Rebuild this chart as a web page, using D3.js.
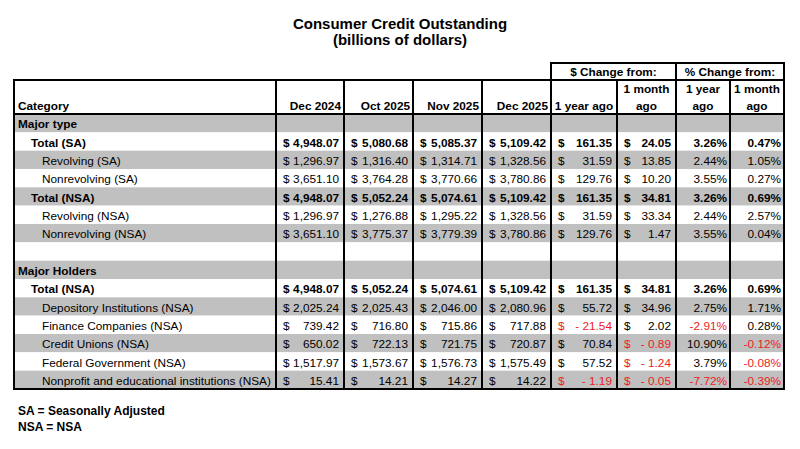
<!DOCTYPE html>
<html>
<head>
<meta charset="utf-8">
<script src="https://cdn.jsdelivr.net/npm/d3@7"></script>
<style>
  body { margin: 0; background: #fff; }
  svg { display: block; font-family: "Liberation Sans", Arial, sans-serif; }
</style>
</head>
<body>
<div id="chart"></div>
<script>
// table data
const categories = [
  'Major type', 'Total (SA)', 'Revolving (SA)', 'Nonrevolving (SA)',
  'Total (NSA)', 'Revolving (NSA)', 'Nonrevolving (NSA)', '',
  'Major Holders', 'Total (NSA)', 'Depository Institutions (NSA)',
  'Finance Companies (NSA)', 'Credit Unions (NSA)', 'Federal Government (NSA)',
  'Nonprofit and educational institutions (NSA)'
];
// 0 = section heading, 1 = total, 2 = detail line
const levels = [0, 1, 2, 2, 1, 2, 2, 2, 0, 1, 2, 2, 2, 2, 2];

const dec2024 = [null, 4948.07, 1296.97, 3651.10, 4948.07, 1296.97, 3651.10, null, null, 4948.07, 2025.24, 739.42, 650.02, 1517.97, 15.41];
const oct2025 = [null, 5080.68, 1316.40, 3764.28, 5052.24, 1276.88, 3775.37, null, null, 5052.24, 2025.43, 716.80, 722.13, 1573.67, 14.21];
const nov2025 = [null, 5085.37, 1314.71, 3770.66, 5074.61, 1295.22, 3779.39, null, null, 5074.61, 2046.00, 715.86, 721.75, 1576.73, 14.27];
const dec2025 = [null, 5109.42, 1328.56, 3780.86, 5109.42, 1328.56, 3780.86, null, null, 5109.42, 2080.96, 717.88, 720.87, 1575.49, 14.22];
const chgYear = [null, 161.35, 31.59, 129.76, 161.35, 31.59, 129.76, null, null, 161.35, 55.72, -21.54, 70.84, 57.52, -1.19];
const chgMonth = [null, 24.05, 13.85, 10.20, 34.81, 33.34, 1.47, null, null, 34.81, 34.96, 2.02, -0.89, -1.24, -0.05];
const pctYear = [null, 3.26, 2.44, 3.55, 3.26, 2.44, 3.55, null, null, 3.26, 2.75, -2.91, 10.90, 3.79, -7.72];
const pctMonth = [null, 0.47, 1.05, 0.27, 0.69, 2.57, 0.04, null, null, 0.69, 1.71, 0.28, -0.12, -0.08, -0.39];

const columnHeaders = [
  ['Category'], ['Dec 2024'], ['Oct 2025'], ['Nov 2025'], ['Dec 2025'],
  ['1 year ago'], ['1 month', 'ago'], ['1 year', 'ago'], ['1 month', 'ago']
];
const groupHeaders = ['$ Change from:', '% Change from:'];

const columns = [
  { key: 'cat', values: categories },
  { key: 'usd', values: dec2024 },
  { key: 'usd', values: oct2025 },
  { key: 'usd', values: nov2025 },
  { key: 'usd', values: dec2025 },
  { key: 'usd', values: chgYear },
  { key: 'usd', values: chgMonth },
  { key: 'pct', values: pctYear },
  { key: 'pct', values: pctMonth }
];

// layout
const width = 800;
const height = 449;
const edges = [14, 276, 344, 413, 482, 551, 617, 676, 730, 784];
const groupTop = 63;
const headTop = 80;
const headBottom = 114;
const tableBottom = 389;
const fontSize = 11.8;
const gray = '#c0c0c0';
const red = '#f01c24';

const svg = d3.select('#chart')
  .append('svg')
  .attr('width', width)
  .attr('height', height);

const y = d3.scaleBand()
  .domain(d3.range(categories.length))
  .range([headBottom, tableBottom]);

const fmtNum = d3.format(',.2f');
const fmtPct = (v) => (v < 0 ? '-' : '') + d3.format('.2f')(Math.abs(v)) + '%';

// title
svg.selectAll('.title')
  .data(['Consumer Credit Outstanding', '(billions of dollars)'])
  .enter()
  .append('text')
  .attr('x', 400)
  .attr('y', (d, i) => 29 + i * 16)
  .attr('text-anchor', 'middle')
  .attr('font-size', 15)
  .attr('font-weight', 'bold')
  .text((d) => d);

// row shading
svg.selectAll('.band')
  .data(categories)
  .enter()
  .append('rect')
  .attr('x', edges[0])
  .attr('y', (d, i) => y(i))
  .attr('width', edges[edges.length - 1] - edges[0])
  .attr('height', y.bandwidth())
  .attr('fill', (d, i) => (i % 2 === 0 ? gray : '#fff'));

// group headers
const groupSpans = [[5, 7], [7, 9]];
svg.selectAll('.group')
  .data(groupHeaders)
  .enter()
  .append('text')
  .attr('x', (d, i) => (edges[groupSpans[i][0]] + edges[groupSpans[i][1]]) / 2)
  .attr('y', 76)
  .attr('text-anchor', 'middle')
  .attr('font-size', fontSize)
  .attr('font-weight', 'bold')
  .text((d) => d);

// column headers
columnHeaders.forEach((lines, c) => {
  const left = edges[c];
  const right = edges[c + 1];
  let anchor = 'end';
  let x = right - 3;
  if (c === 0) { anchor = 'start'; x = left + 4; }
  if (c >= 5) { anchor = 'middle'; x = (left + right) / 2; }
  svg.append('text')
    .attr('font-size', fontSize)
    .attr('font-weight', 'bold')
    .attr('text-anchor', anchor)
    .selectAll('tspan')
    .data(lines)
    .enter()
    .append('tspan')
    .attr('x', x)
    .attr('y', (d, i) => 110 - (lines.length - 1 - i) * 17)
    .text((d) => d);
});

// cells
const indent = [4, 17, 28];
columns.forEach((col, c) => {
  const left = edges[c];
  const right = edges[c + 1];
  col.values.forEach((v, r) => {
    const bold = levels[r] < 2;
    const base = y(r) + y.bandwidth() - 4;
    if (col.key === 'cat') {
      if (!v) return;
      svg.append('text')
        .attr('x', left + indent[levels[r]])
        .attr('y', base)
        .attr('font-size', fontSize)
        .attr('font-weight', bold ? 'bold' : 'normal')
        .text(v);
      return;
    }
    if (v === null) return;
    const g = svg.append('g')
      .attr('font-size', fontSize)
      .attr('font-weight', bold ? 'bold' : 'normal')
      .attr('fill', v < 0 ? red : '#000');
    if (col.key === 'usd') {
      g.append('text')
        .attr('x', left + 7)
        .attr('y', base)
        .text('$');
      g.append('text')
        .attr('x', right - 5)
        .attr('y', base)
        .attr('text-anchor', 'end')
        .text(v < 0 ? '- ' + fmtNum(-v) : fmtNum(v));
    } else {
      g.append('text')
        .attr('x', right - 3)
        .attr('y', base)
        .attr('text-anchor', 'end')
        .text(fmtPct(v));
    }
  });
});

// grid lines: only group boundaries reach up into the group header row
const groupEdges = [5, 7, 9];
const lines = [];
edges.forEach((x, i) => {
  lines.push({ x1: x, y1: groupEdges.includes(i) ? groupTop : headTop, x2: x, y2: tableBottom });
});
lines.push({ x1: edges[0], y1: headTop, x2: edges[9], y2: headTop });
lines.push({ x1: edges[5], y1: groupTop, x2: edges[9], y2: groupTop });
lines.push({ x1: edges[0], y1: headBottom, x2: edges[9], y2: headBottom });
lines.push({ x1: edges[0], y1: tableBottom, x2: edges[9], y2: tableBottom });

svg.selectAll('.grid')
  .data(lines)
  .enter()
  .append('line')
  .attr('x1', (d) => d.x1)
  .attr('y1', (d) => d.y1)
  .attr('x2', (d) => d.x2)
  .attr('y2', (d) => d.y2)
  .attr('stroke', '#000')
  .attr('stroke-width', 2)
  .attr('stroke-linecap', 'square');

// footnotes
svg.selectAll('.note')
  .data(['SA = Seasonally Adjusted', 'NSA = NSA'])
  .enter()
  .append('text')
  .attr('x', 18)
  .attr('y', (d, i) => 415 + i * 16)
  .attr('font-size', 12)
  .attr('font-weight', 'bold')
  .text((d) => d);
</script>
</body>
</html>
